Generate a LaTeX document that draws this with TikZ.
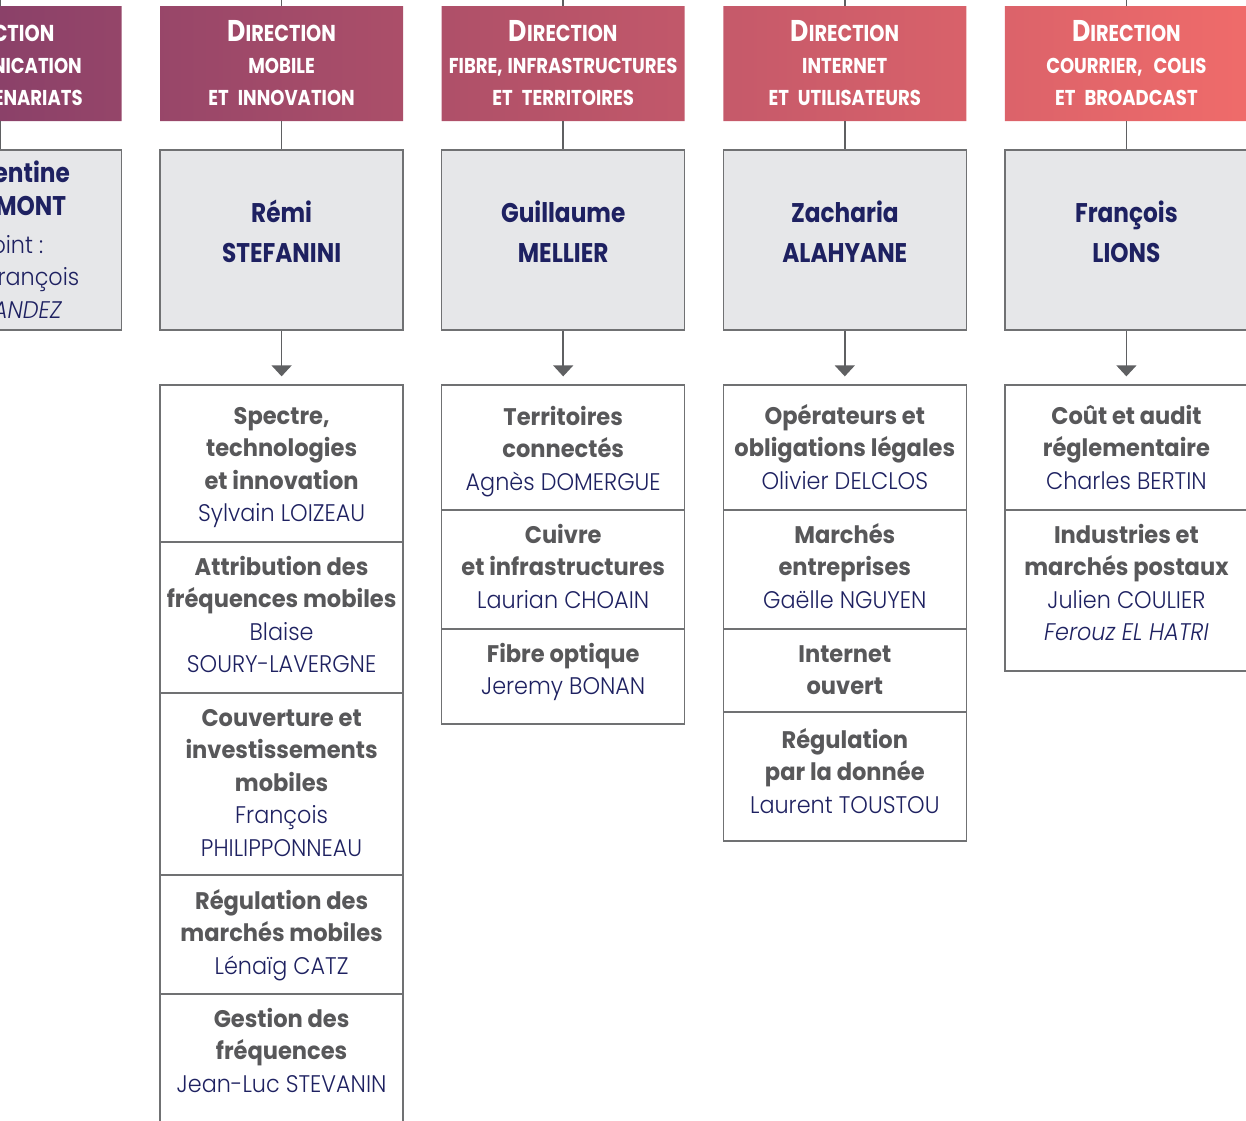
\documentclass[tikz,border=0pt]{standalone}
\usepackage{fontspec}
\setmainfont[FakeStretch=0.94]{Poppins}
\newfontfamily\lightfont[FakeStretch=0.93]{Poppins Light}
\newfontfamily\persfont[FakeStretch=0.86]{Poppins}
\newfontfamily\hdrfont[FakeStretch=0.84]{Poppins}
\usetikzlibrary{arrows.meta}
\definecolor{navy}{HTML}{1E2161}
\definecolor{titlegray}{HTML}{58585A}
\definecolor{linegray}{HTML}{5F6062}
\definecolor{boxfill}{HTML}{E6E7E9}
\definecolor{boxdraw}{HTML}{707173}
\definecolor{hdrL}{HTML}{8B4169}
\definecolor{hdrR}{HTML}{EF6B6A}
\newcommand{\stk}[1]{\begin{tabular}[t]{@{}c@{}}#1\end{tabular}}
\newcommand{\ttl}[1]{{\bfseries\color{titlegray}#1}}
\newcommand{\nm}[1]{{\lightfont\color{navy}#1}}
\newcommand{\nmi}[1]{{\lightfont\itshape\color{navy}#1}}
\newcommand{\dirw}{{\fontsize{30}{32}\selectfont D}{\fontsize{23}{32}\selectfont IRECTION}}
\newcommand{\hsp}{\hspace{9pt}}
\begin{document}
\begin{tikzpicture}[x=1pt,y=-1pt,
  hdrbox/.style={rectangle,draw=none,minimum width=243pt,minimum height=115pt,inner sep=0pt},
  hdrtxt/.style={anchor=base,inner sep=0pt,text=white,font=\hdrfont\bfseries\fontsize{21.5}{32}\selectfont},
  persbox/.style={rectangle,draw=boxdraw,line width=1.4pt,fill=boxfill,minimum width=243pt,minimum height=180pt,inner sep=0pt},
  perstxt/.style={anchor=base,inner sep=0pt,text=navy,font=\persfont\bfseries\fontsize{27}{40}\selectfont},
  secbox/.style={rectangle,draw=boxdraw,line width=1.3pt,fill=white,minimum width=243pt,inner sep=0pt},
  sectxt/.style={anchor=base,inner sep=0pt,font=\fontsize{24}{32.5}\selectfont},
  conn/.style={draw=linegray,line width=1.5pt},
  arr/.style={conn,-{Triangle[width=20pt,length=11pt]},shorten >=8pt}
]
\useasboundingbox (0,0) rectangle (1246,1120);
\clip (0,0) rectangle (1246,1120);

% header gradient
\begin{scope}
\clip (-121.5,6) rectangle (121.5,121)
      (160.1,6) rectangle (403.1,121)
      (441.7,6) rectangle (684.7,121)
      (723.3,6) rectangle (966.3,121)
      (1004.9,6) rectangle (1247.9,121);
\shade[left color=hdrL,right color=hdrR] (0,0) rectangle (1246,130);
\end{scope}

% header nodes
\node[hdrbox] (h0) at (0,63.5) {};
\node[hdrbox] (h1) at (281.6,63.5) {};
\node[hdrbox] (h2) at (563.2,63.5) {};
\node[hdrbox] (h3) at (844.8,63.5) {};
\node[hdrbox] (h4) at (1126.4,63.5) {};

\node[hdrtxt] (h0t) at (0,41) {\stk{\dirw\\COMMUNICATION\\ET\hsp PARTENARIATS}};
\node[hdrtxt] (h1t) at (281.6,41) {\stk{\dirw\\MOBILE\\ET\hsp INNOVATION}};
\node[hdrtxt] (h2t) at (563.2,41) {\stk{\dirw\\FIBRE,\hspace{5pt}INFRASTRUCTURES\\ET\hsp TERRITOIRES}};
\node[hdrtxt] (h3t) at (844.8,41) {\stk{\dirw\\INTERNET\\ET\hsp UTILISATEURS}};
\node[hdrtxt] (h4t) at (1126.4,41) {\stk{\dirw\\COURRIER,\hspace{11pt}COLIS\\ET\hsp BROADCAST}};

% top connectors
\coordinate (t0) at (0,-5);
\coordinate (t1) at (281.6,-5);
\coordinate (t2) at (563.2,-5);
\coordinate (t3) at (844.8,-5);
\coordinate (t4) at (1126.4,-5);
\draw[conn] (t0) -- (h0.north);
\draw[conn] (t1) -- (h1.north);
\draw[conn] (t2) -- (h2.north);
\draw[conn] (t3) -- (h3.north);
\draw[conn] (t4) -- (h4.north);

% person boxes
\node[persbox] (p0) at (0,240) {};
\node[persbox] (p1) at (281.6,240) {};
\node[persbox] (p2) at (563.2,240) {};
\node[persbox] (p3) at (844.8,240) {};
\node[persbox] (p4) at (1126.4,240) {};

\draw[conn] (h0.south) -- (p0.north);
\draw[conn] (h1.south) -- (p1.north);
\draw[conn] (h2.south) -- (p2.north);
\draw[conn] (h3.south) -- (p3.north);
\draw[conn] (h4.south) -- (p4.north);

\node[perstxt,font=\persfont\bfseries\fontsize{27}{33}\selectfont] (p0t) at (0,182) {\stk{Clémentine\\BEAUMONT}};
\node[sectxt,text=navy] (p0a) at (0,253) {\stk{\nm{Adjoint :}\\\nm{Jean-François}\\\nmi{HERNANDEZ}}};
\node[perstxt] (p1t) at (281.6,222) {\stk{Rémi\\STEFANINI}};
\node[perstxt] (p2t) at (563.2,222) {\stk{Guillaume\\MELLIER}};
\node[perstxt] (p3t) at (844.8,222) {\stk{Zacharia\\ALAHYANE}};
\node[perstxt] (p4t) at (1126.4,222) {\stk{François\\LIONS}};

% column 1 sections
\node[secbox,minimum height=157pt] (s11) at (281.6,463.5) {};
\node[secbox,minimum height=151pt] (s12) at (281.6,617.5) {};
\node[secbox,minimum height=182pt] (s13) at (281.6,784) {};
\node[secbox,minimum height=119pt] (s14) at (281.6,934.5) {};
\node[secbox,minimum height=170pt] (s15) at (281.6,1079) {};
% column 2 sections
\node[secbox,minimum height=125pt] (s21) at (563.2,447.5) {};
\node[secbox,minimum height=119pt] (s22) at (563.2,569.5) {};
\node[secbox,minimum height=95pt] (s23) at (563.2,676.5) {};
% column 3 sections
\node[secbox,minimum height=125pt] (s31) at (844.8,447.5) {};
\node[secbox,minimum height=119pt] (s32) at (844.8,569.5) {};
\node[secbox,minimum height=83pt] (s33) at (844.8,670.5) {};
\node[secbox,minimum height=129pt] (s34) at (844.8,776.5) {};
% column 4 sections
\node[secbox,minimum height=125pt] (s41) at (1126.4,447.5) {};
\node[secbox,minimum height=161pt] (s42) at (1126.4,590.5) {};

% arrows
\draw[arr] (p1.south) -- (s11.north);
\draw[arr] (p2.south) -- (s21.north);
\draw[arr] (p3.south) -- (s31.north);
\draw[arr] (p4.south) -- (s41.north);

% section texts
\node[sectxt] (s11t) at (281.6,424) {\stk{\ttl{Spectre,}\\\ttl{technologies}\\\ttl{et innovation}\\\nm{Sylvain LOIZEAU}}};
\node[sectxt] (s12t) at (281.6,575) {\stk{\ttl{Attribution des}\\\ttl{fréquences mobiles}\\\nm{Blaise}\\\nm{SOURY-LAVERGNE}}};
\node[sectxt] (s13t) at (281.6,726) {\stk{\ttl{Couverture et}\\\ttl{investissements}\\\ttl{mobiles}\\\nm{François}\\\nm{PHILIPPONNEAU}}};
\node[sectxt] (s14t) at (281.6,909) {\stk{\ttl{Régulation des}\\\ttl{marchés mobiles}\\\nm{Lénaïg CATZ}}};
\node[sectxt] (s15t) at (281.6,1027) {\stk{\ttl{Gestion des}\\\ttl{fréquences}\\\nm{Jean-Luc STEVANIN}}};

\node[sectxt] (s21t) at (563.2,425) {\stk{\ttl{Territoires}\\\ttl{connectés}\\\nm{Agnès DOMERGUE}}};
\node[sectxt] (s22t) at (563.2,543) {\stk{\ttl{Cuivre}\\\ttl{et infrastructures}\\\nm{Laurian CHOAIN}}};
\node[sectxt] (s23t) at (563.2,662) {\stk{\ttl{Fibre optique}\\\nm{Jeremy BONAN}}};

\node[sectxt] (s31t) at (844.8,424) {\stk{\ttl{Opérateurs et}\\\ttl{obligations légales}\\\nm{Olivier DELCLOS}}};
\node[sectxt] (s32t) at (844.8,543) {\stk{\ttl{Marchés}\\\ttl{entreprises}\\\nm{Gaëlle NGUYEN}}};
\node[sectxt] (s33t) at (844.8,662) {\stk{\ttl{Internet}\\\ttl{ouvert}}};
\node[sectxt] (s34t) at (844.8,748) {\stk{\ttl{Régulation}\\\ttl{par la donnée}\\\nm{Laurent TOUSTOU}}};

\node[sectxt] (s41t) at (1126.4,424) {\stk{\ttl{Coût et audit}\\\ttl{réglementaire}\\\nm{Charles BERTIN}}};
\node[sectxt] (s42t) at (1126.4,543) {\stk{\ttl{Industries et}\\\ttl{marchés postaux}\\\nm{Julien COULIER}\\\nmi{Ferouz EL HATRI}}};
\end{tikzpicture}
\end{document}
